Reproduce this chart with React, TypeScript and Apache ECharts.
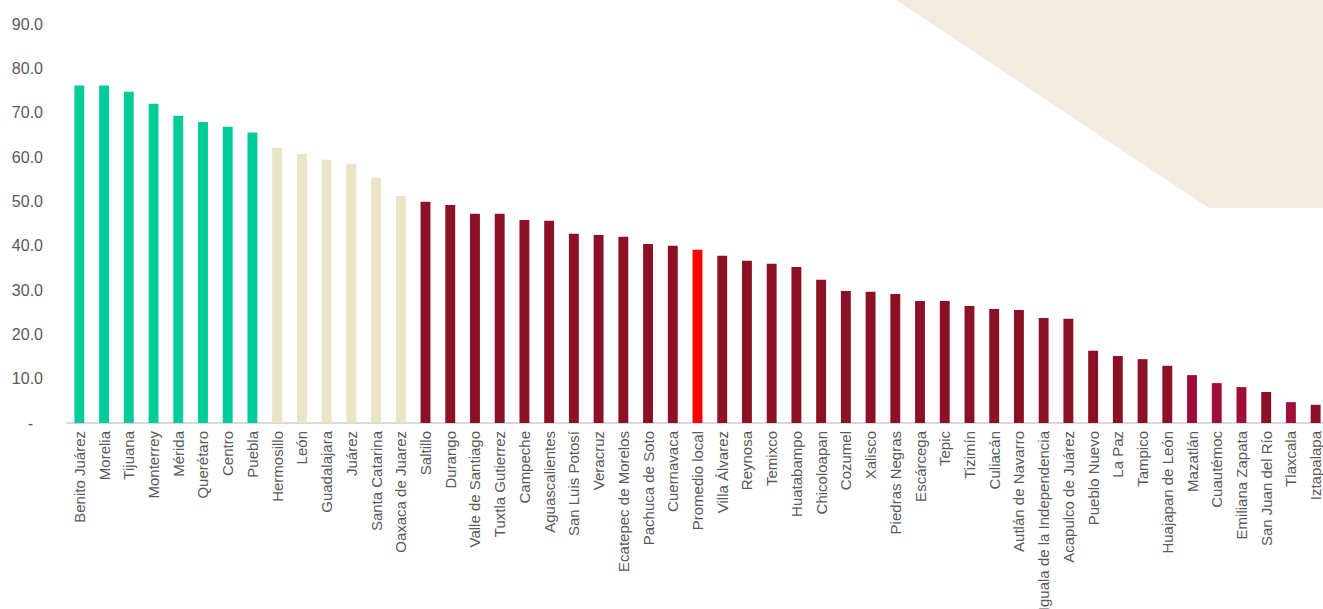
import React, { useEffect, useRef } from "react";
import * as echarts from "echarts";

const categories = [
  "Benito Juárez", "Morelia", "Tijuana", "Monterrey", "Mérida", "Querétaro", "Centro", "Puebla",
  "Hermosillo", "León", "Guadalajara", "Juárez", "Santa Catarina", "Oaxaca de Juarez",
  "Saltillo", "Durango", "Valle de Santiago", "Tuxtla Gutierrez", "Campeche", "Aguascalientes",
  "San Luis Potosí", "Veracruz", "Ecatepec de Morelos", "Pachuca de Soto", "Cuernavaca",
  "Promedio local", "Villa Álvarez", "Reynosa", "Temixco", "Huatabampo", "Chicoloapan",
  "Cozumel", "Xalisco", "Piedras Negras", "Escárcega", "Tepic", "Tizimín", "Culiacán",
  "Autlán de Navarro", "Iguala de la Independencia", "Acapulco de Juárez", "Pueblo Nuevo",
  "La Paz", "Tampico", "Huajapan de León", "Mazatlán", "Cuautémoc", "Emiliana Zapata",
  "San Juan del Río", "Tlaxcala", "Iztapalapa",
];

const values = [
  76.1, 76.1, 74.7, 72.0, 69.3, 67.9, 66.8, 65.5,
  62.1, 60.7, 59.4, 58.5, 55.3, 51.2,
  49.9, 49.2, 47.2, 47.2, 45.8, 45.6,
  42.7, 42.4, 42.0, 40.4, 40.0,
  39.1, 37.7, 36.6, 35.9, 35.2, 32.3,
  29.8, 29.6, 29.1, 27.5, 27.5, 26.4, 25.7,
  25.5, 23.7, 23.5, 16.3,
  15.1, 14.4, 12.9, 10.8, 9.0, 8.1,
  7.0, 4.7, 4.1,
];

// group per bar: g = green, b = beige, r = dark red, p = average (red), m = magenta-ish red
const groups = [
  "g", "g", "g", "g", "g", "g", "g", "g",
  "b", "b", "b", "b", "b", "b",
  "r", "r", "r", "r", "r", "r",
  "r", "r", "r", "r", "r",
  "p", "r", "r", "r", "r", "r",
  "r", "r", "r", "r", "r", "r", "r",
  "r", "r", "r", "r",
  "r", "r", "r", "m", "m", "m",
  "r", "m", "r",
];

const yTicks = [0, 10, 20, 30, 40, 50, 60, 70, 80, 90];

const colorMap: Record<string, string> = {
  g: "#00CC99",
  b: "#E9E5C6",
  r: "#8C1127",
  p: "#FF0000",
  m: "#9E0E37",
};

const FONT = "Liberation Sans Narrow, Arial Narrow, Liberation Sans, Arial, sans-serif";

export default function App() {
  const ref = useRef<HTMLDivElement>(null);
  useEffect(() => {
    if (!ref.current) return;
    const chart = echarts.init(ref.current, null, { renderer: "svg" });
    chart.setOption({
      animation: false,
      backgroundColor: "#FFFFFF",
      graphic: [
        {
          type: "polygon",
          silent: true,
          z: -10,
          shape: { points: [[896, 0], [1323, 0], [1323, 208], [1209, 208]] },
          style: { fill: "#F2ECE0" },
        },
      ],
      grid: {
        left: 67,
        right: -5,
        top: 24,
        bottom: 186,
        containLabel: false,
        outerBoundsMode: "none",
      },
      xAxis: {
        type: "category",
        data: categories,
        axisLine: { show: true, lineStyle: { color: "#D9D9D9", width: 2 } },
        axisTick: { show: false },
        axisLabel: {
          rotate: 90,
          interval: 0,
          margin: 8,
          color: "#595959",
          fontSize: 15,
          fontFamily: FONT,
          hideOverlap: false,
        },
      },
      yAxis: {
        type: "value",
        min: 0,
        max: yTicks[yTicks.length - 1],
        interval: 10,
        splitLine: { show: false },
        axisLine: { show: false },
        axisTick: { show: false },
        axisLabel: {
          margin: 24,
          color: "#595959",
          fontSize: 16,
          fontFamily: FONT,
          formatter: (v: number) => (v === 0 ? "{d|-}" : v.toFixed(1)),
          rich: { d: { padding: [0, 10, 0, 0], fontSize: 16, color: "#595959" } },
        },
      },
      series: [
        {
          type: "bar",
          barWidth: "40%",
          data: values.map((v, i) => ({
            value: v,
            itemStyle: { color: colorMap[groups[i]] },
          })),
        },
      ],
    });
    return () => chart.dispose();
  }, []);
  return (
    <div
      ref={ref}
      style={{ position: "fixed", left: 0, top: 0, width: 1323, height: 609 }}
    />
  );
}
